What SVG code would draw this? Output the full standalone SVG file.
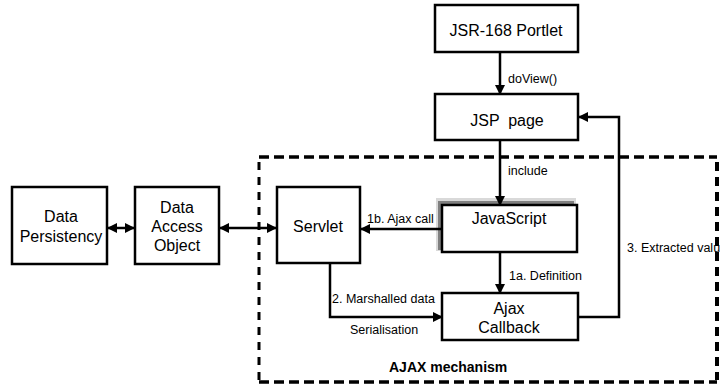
<svg xmlns="http://www.w3.org/2000/svg" width="720" height="385" viewBox="0 0 720 385">
  <defs>
    <style>
      .box { fill: #fff; stroke: #000; stroke-width: 2.5; }
      .t { font-family: "Liberation Sans", Arial, sans-serif; font-size: 16px; fill: #000; text-anchor: middle; }
      .lbl { font-family: "Liberation Sans", Arial, sans-serif; font-size: 12.5px; fill: #000; }
      .ttl { font-family: "Liberation Sans", Arial, sans-serif; font-size: 14px; font-weight: bold; fill: #000; }
      .ln { fill: none; stroke: #000; stroke-width: 2.5; }
      .dash { fill: none; stroke: #000; }
    </style>
    <marker id="ah" viewBox="0 0 10 10" refX="9" refY="5" markerWidth="4" markerHeight="4" orient="auto" markerUnits="strokeWidth">
      <path d="M0,0 L10,5 L0,10 z" fill="#000"/>
    </marker>
    <marker id="ahs" viewBox="0 0 10 10" refX="1" refY="5" markerWidth="4" markerHeight="4" orient="auto" markerUnits="strokeWidth">
      <path d="M10,0 L0,5 L10,10 z" fill="#000"/>
    </marker>
  </defs>

  <rect width="720" height="385" fill="#fff"/>

  <!-- AJAX mechanism boundary -->
  <g id="ajax-boundary">
    <line class="dash" x1="259" y1="157" x2="717" y2="157" stroke-width="3.5" stroke-dasharray="10 5"/>
    <line class="dash" x1="259" y1="382" x2="717" y2="382" stroke-width="3.5" stroke-dasharray="10 5"/>
    <line class="dash" x1="259" y1="162" x2="259" y2="380" stroke-width="3" stroke-dasharray="8 7"/>
    <line class="dash" x1="717" y1="162" x2="717" y2="380" stroke-width="4" stroke-dasharray="9 6"/>
    <text class="ttl" x="389" y="372">AJAX mechanism</text>
  </g>

  <!-- Nodes -->
  <g id="portlet">
    <rect class="box" x="435" y="5" width="143" height="47"/>
    <text class="t" x="506" y="36">JSR-168 Portlet</text>
  </g>

  <g id="jsp-page">
    <rect class="box" x="435" y="94" width="143" height="46"/>
    <text class="t" x="507" y="126" xml:space="preserve">JSP  page</text>
  </g>

  <g id="data-persistency">
    <rect class="box" x="12" y="187" width="95" height="77"/>
    <text class="t" x="61" y="222">Data</text>
    <text class="t" x="61" y="242">Persistency</text>
  </g>

  <g id="data-access-object">
    <rect class="box" x="135" y="187" width="84" height="77"/>
    <text class="t" x="177" y="213">Data</text>
    <text class="t" x="177" y="232">Access</text>
    <text class="t" x="177" y="251">Object</text>
  </g>

  <g id="servlet">
    <rect class="box" x="277" y="187" width="83" height="76"/>
    <text class="t" x="318" y="232">Servlet</text>
  </g>

  <g id="javascript">
    <!-- soft drop shadow behind the box -->
    <rect x="436" y="198" width="140" height="53" fill="#d9d9d9"/>
    <rect x="438" y="201" width="136" height="49" fill="#808080"/>
    <rect class="box" x="442" y="205" width="135" height="47"/>
    <text class="t" x="509" y="224">JavaScript</text>
  </g>

  <g id="ajax-callback">
    <rect class="box" x="442" y="293" width="136" height="47"/>
    <text class="t" x="509" y="314">Ajax</text>
    <text class="t" x="509" y="333">Callback</text>
  </g>

  <!-- Connectors -->
  <g id="connectors">
    <line class="ln" x1="500" y1="53" x2="500" y2="94" marker-end="url(#ah)"/>
    <line class="ln" x1="500" y1="141" x2="500" y2="205" marker-end="url(#ah)"/>
    <line class="ln" x1="441" y1="229" x2="361" y2="229" marker-end="url(#ah)"/>
    <line class="ln" x1="500" y1="252" x2="500" y2="293" marker-end="url(#ah)"/>
    <polyline class="ln" points="330,263 330,317 442,317" marker-end="url(#ah)"/>
    <polyline class="ln" points="578,317 619,317 619,117 579,117" marker-end="url(#ah)"/>
    <line class="ln" x1="108" y1="228" x2="134" y2="228" marker-start="url(#ahs)" marker-end="url(#ah)"/>
    <line class="ln" x1="220" y1="228" x2="276" y2="228" marker-start="url(#ahs)" marker-end="url(#ah)"/>

    <text class="lbl" x="508" y="83" font-size="13.5">doView()</text>
    <text class="lbl" x="508" y="175">include</text>
    <text class="lbl" x="367" y="223">1b. Ajax call</text>
    <text class="lbl" x="509" y="280">1a. Definition</text>
    <text class="lbl" x="332" y="303">2. Marshalled data</text>
    <text class="lbl" x="350" y="334">Serialisation</text>
    <text class="lbl" x="627" y="252">3. Extracted valu</text>
  </g>
</svg>
